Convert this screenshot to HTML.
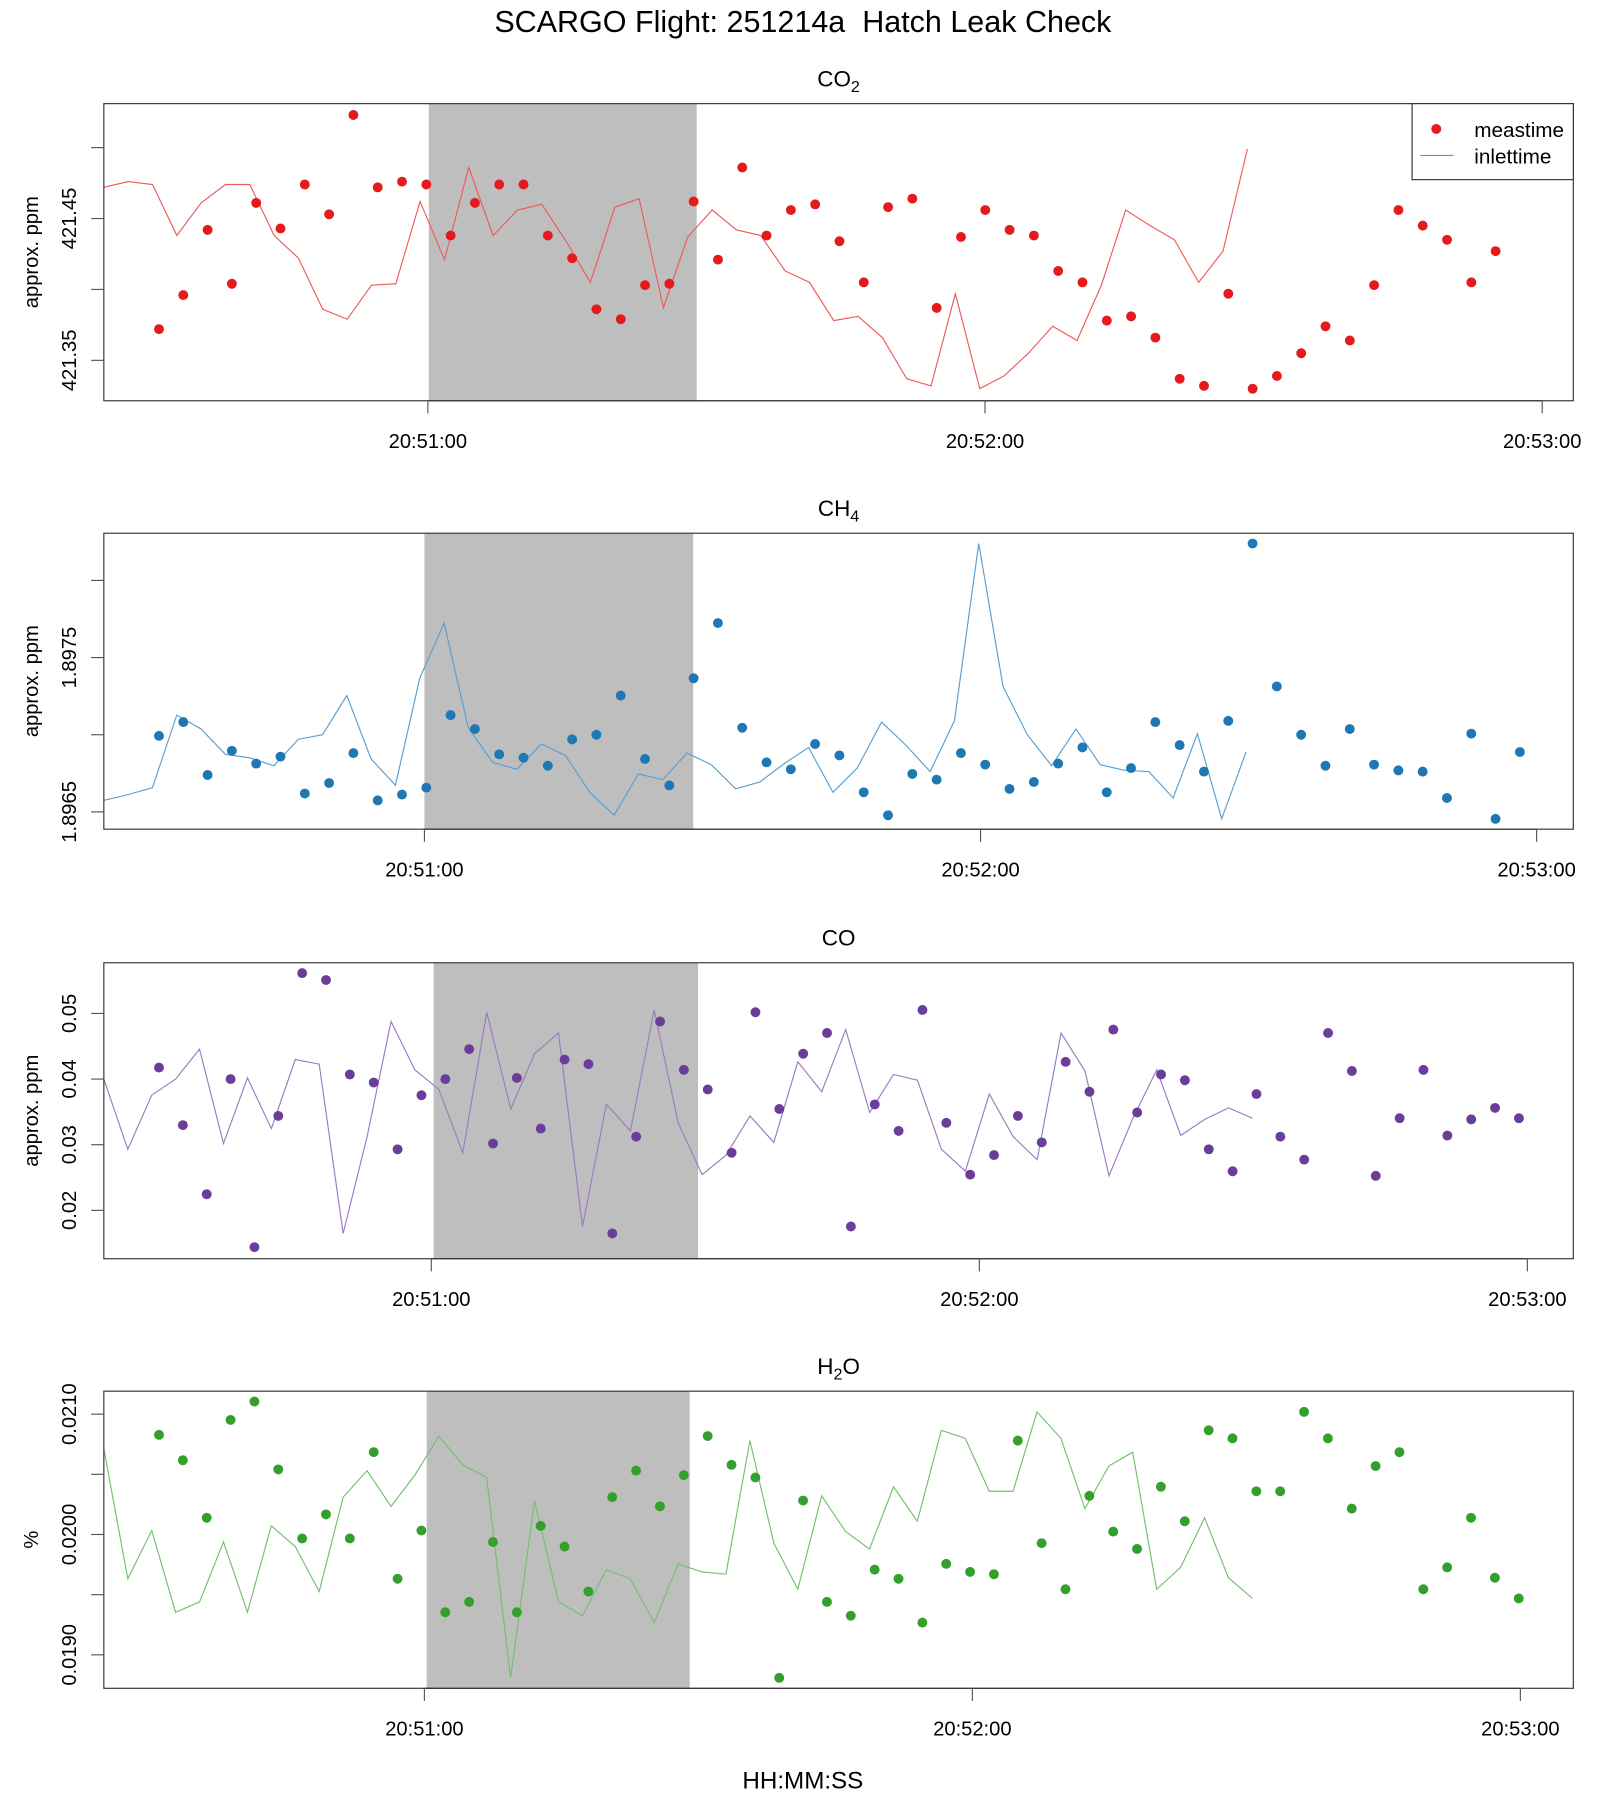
<!DOCTYPE html>
<html><head><meta charset="utf-8"><style>
html,body{margin:0;padding:0;background:#fff;}
svg{display:block;font-family:"Liberation Sans",sans-serif;}
</style></head><body>
<svg id="chart" width="1600" height="1800" viewBox="0 0 1389 1563" xmlns="http://www.w3.org/2000/svg">
<text x="697" y="28" font-size="26.5" text-anchor="middle" xml:space="preserve" style="white-space:pre">SCARGO Flight: 251214a  Hatch Leak Check</text>
<text x="697" y="1553" font-size="21" text-anchor="middle">HH:MM:SS</text>
</svg>
<script>
// Times in seconds after 20:50:00
const xTickLabels = ["20:51:00","20:52:00","20:53:00"];
const xTickTimes = [60,120,180];

const co2Meas = [421.372,421.396,421.442,421.404,421.461,421.443,421.474,421.453,421.523,421.472,421.476,421.474,421.438,421.461,421.474,421.474,421.438,421.422,421.386,421.379,421.403,421.404,421.462,421.421,421.486,421.438,421.456,421.460,421.434,421.405,421.458,421.464,421.387,421.437,421.456,421.442,421.438,421.413,421.405,421.378,421.381,421.366,421.337,421.332,421.397,421.330,421.339,421.355,421.374,421.364,421.403,421.456,421.445,421.435,421.405,421.427];
const co2Inlet = [421.472,421.476,421.474,421.438,421.461,421.474,421.474,421.438,421.422,421.386,421.379,421.403,421.404,421.462,421.421,421.486,421.438,421.456,421.460,421.434,421.405,421.458,421.464,421.387,421.437,421.456,421.442,421.438,421.413,421.405,421.378,421.381,421.366,421.337,421.332,421.397,421.330,421.339,421.355,421.374,421.364,421.403,421.456,421.445,421.435,421.405,421.427,421.499];

const ch4Meas = [1.896993,1.897082,1.896739,1.896896,1.896813,1.896858,1.896619,1.896687,1.896881,1.896575,1.896612,1.896657,1.897127,1.897037,1.896873,1.896851,1.896799,1.89697,1.8970,1.897254,1.896843,1.896672,1.897366,1.897724,1.897045,1.896821,1.896776,1.89694,1.896866,1.896627,1.896478,1.896746,1.896709,1.896881,1.896806,1.896649,1.896694,1.896813,1.896918,1.896627,1.896784,1.897082,1.896933,1.896761,1.89709,1.898239,1.897313,1.8970,1.896799,1.897037,1.896806,1.896769,1.896761,1.89659,1.897007,1.896455,1.896888];
const ch4Inlet = [1.896575,1.896612,1.896657,1.897127,1.897037,1.896873,1.896851,1.896799,1.89697,1.8970,1.897254,1.896843,1.896672,1.897366,1.897724,1.897045,1.896821,1.896776,1.89694,1.896866,1.896627,1.896478,1.896746,1.896709,1.896881,1.896806,1.896649,1.896694,1.896813,1.896918,1.896627,1.896784,1.897082,1.896933,1.896761,1.89709,1.898239,1.897313,1.8970,1.896799,1.897037,1.896806,1.896769,1.896761,1.89659,1.897007,1.896455,1.896888];

const coMeas = [0.04175,0.03298,0.02246,0.0400,0.01439,0.03439,0.05614,0.05509,0.0407,0.03947,0.0293,0.03754,0.0400,0.04456,0.03018,0.04018,0.03246,0.04298,0.04228,0.01649,0.03123,0.04877,0.0414,0.03842,0.02877,0.05018,0.03544,0.04386,0.04702,0.01754,0.03614,0.0321,0.05053,0.03333,0.02544,0.02842,0.03439,0.03035,0.04263,0.03807,0.04754,0.03491,0.0407,0.03982,0.0293,0.02596,0.03772,0.03123,0.02772,0.04702,0.04123,0.02526,0.03404,0.0414,0.0314,0.03386,0.03561,0.03404];
const coInlet = [0.0400,0.0293,0.03754,0.0400,0.04456,0.03018,0.04018,0.03246,0.04298,0.04228,0.01649,0.03123,0.04877,0.0414,0.03842,0.02877,0.05018,0.03544,0.04386,0.04702,0.01754,0.03614,0.0321,0.05053,0.03333,0.02544,0.02842,0.03439,0.03035,0.04263,0.03807,0.04754,0.03491,0.0407,0.03982,0.0293,0.02596,0.03772,0.03123,0.02772,0.04702,0.04123,0.02526,0.03404,0.0414,0.0314,0.03386,0.03561,0.03404];

const h2oMeas = [0.020828,0.020617,0.020139,0.020952,0.021105,0.020541,0.019967,0.020167,0.019967,0.020684,0.019632,0.020033,0.019354,0.01944,0.019938,0.019354,0.020072,0.0199,0.019526,0.020311,0.020531,0.020234,0.020493,0.020818,0.020579,0.020474,0.018809,0.020282,0.01944,0.019325,0.019708,0.019632,0.019268,0.019756,0.019689,0.01967,0.02078,0.019928,0.019545,0.020321,0.020024,0.01988,0.020397,0.02011,0.020866,0.020799,0.020359,0.020359,0.021019,0.020799,0.020215,0.020569,0.020684,0.019545,0.019727,0.020139,0.019641,0.019469];
const h2oInlet = [0.020713,0.019632,0.020033,0.019354,0.01944,0.019938,0.019354,0.020072,0.0199,0.019526,0.020311,0.020531,0.020234,0.020493,0.020818,0.020579,0.020474,0.018809,0.020282,0.01944,0.019325,0.019708,0.019632,0.019268,0.019756,0.019689,0.01967,0.02078,0.019928,0.019545,0.020321,0.020024,0.01988,0.020397,0.02011,0.020866,0.020799,0.020359,0.020359,0.021019,0.020799,0.020215,0.020569,0.020684,0.019545,0.019727,0.020139,0.019641,0.019469];

const co2YTicks = [421.35,421.40,421.45,421.50];
const co2YLabels = ["421.35","","421.45",""];
const ch4YTicks = [1.8965,1.8970,1.8975,1.8980];
const ch4YLabels = ["1.8965","","1.8975",""];
const coYTicks = [0.02,0.03,0.04,0.05];
const coYLabels = ["0.02","0.03","0.04","0.05"];
const h2oYTicks = [0.019,0.0195,0.020,0.0205,0.021];
const h2oYLabels = ["0.0190","","0.0200","","0.0210"];

const NS = "http://www.w3.org/2000/svg";
const svg = document.getElementById('chart');
function mk(tag, attrs, parent){ const e=document.createElementNS(NS,tag); for(const k in attrs) e.setAttribute(k,attrs[k]); (parent||svg).appendChild(e); return e; }

const panels = [
 {key:'co2', title:'CO', sub:'2', top:90, bottom:348, tmin:25.11, tmax:183.35, ymin:421.3215, ymax:421.531,
  mT0:31.05, mDt:2.617, iT0:25.11, iDt:2.62, meas:co2Meas, inlet:co2Inlet, yt:co2YTicks, yl:co2YLabels,
  pc:'#e41a1c', lc:'#f05a5a', shade:[60.1,88.95], ytitle:'approx. ppm', legend:true},
 {key:'ch4', title:'CH', sub:'4', top:463, bottom:720, tmin:25.41, tmax:183.96, ymin:1.896388, ymax:1.898306,
  mT0:31.36, mDt:2.622, iT0:25.41, iDt:2.622, meas:ch4Meas, inlet:ch4Inlet, yt:ch4YTicks, yl:ch4YLabels,
  pc:'#1f78b4', lc:'#5a9fd0', shade:[60.0,89.0], ytitle:'approx. ppm'},
 {key:'co', title:'CO', sub:'', top:836, bottom:1093, tmin:24.15, tmax:185.03, ymin:0.01263, ymax:0.05772,
  mT0:30.19, mDt:2.612, iT0:24.15, iDt:2.62, meas:coMeas, inlet:coInlet, yt:coYTicks, yl:coYLabels,
  pc:'#6a3d9a', lc:'#9a7cc0', shade:[60.25,89.2], ytitle:'approx. ppm'},
 {key:'h2o', title:'H', sub:'2', tail:'O', top:1208, bottom:1466, tmin:24.9, tmax:185.8, ymin:0.018722, ymax:0.021191,
  mT0:30.94, mDt:2.612, iT0:24.9, iDt:2.62, meas:h2oMeas, inlet:h2oInlet, yt:h2oYTicks, yl:h2oYLabels,
  pc:'#33a02c', lc:'#74c06e', shade:[60.25,89.05], ytitle:'%'}
];

const L=90, R=1366;
panels.forEach(p=>{
  const g = mk('g',{});
  
  
  const xs = t => L + (t-p.tmin)/(p.tmax-p.tmin)*(R-L);
  const ys = v => p.bottom - (v-p.ymin)/(p.ymax-p.ymin)*(p.bottom-p.top);
  const tt = mk('text',{x:(L+R)/2, y:p.top-15, 'font-size':19.5, 'text-anchor':'middle'}, g);
  
  
  tt.appendChild(document.createTextNode(p.title));
  if(p.sub){ const s=mk('tspan',{'font-size':14, dy:5},tt); s.textContent=p.sub; }
  if(p.tail){ const s=mk('tspan',{dy:-5},tt); s.textContent=p.tail; }
  const sh = mk('rect',{x:xs(p.shade[0]), y:p.top, width:xs(p.shade[1])-xs(p.shade[0]), height:p.bottom-p.top, fill:'#bebebe'}, g);
  
  
  const pts = p.inlet.map((v,i)=> xs(p.iT0+i*p.iDt).toFixed(1)+','+ys(v).toFixed(1)).join(' ');
  const ln = mk('polyline',{points:pts, fill:'none', stroke:p.lc, 'stroke-width':1}, g);
  
  
  p.meas.forEach((v,i)=>{
    const c = mk('circle',{cx:xs(p.mT0+i*p.mDt), cy:ys(v), r:4.3, fill:p.pc}, g);
    
    
  });
  const bx = mk('rect',{x:L, y:p.top, width:R-L, height:p.bottom-p.top, fill:'none', stroke:'#333', 'stroke-width':1}, g);
  
  
  p.yt.forEach((v,i)=>{
    const y = ys(v);
    const tk = mk('line',{x1:L-11, x2:L, y1:y, y2:y, stroke:'#555'}, g);
    
    
    if(p.yl[i]){
      const tl = mk('text',{x:0,y:0,'font-size':17.5,'text-anchor':'middle', transform:`translate(66,${y}) rotate(-90)`}, g);
      
      
      tl.textContent = p.yl[i];
    }
  });
  const yt = mk('text',{x:0,y:0,'font-size':17.5,'text-anchor':'middle', transform:`translate(33,${(p.top+p.bottom)/2}) rotate(-90)`}, g);
  
  
  yt.textContent = p.ytitle;
  const xa = mk('line',{x1:xs(xTickTimes[0]), x2:xs(xTickTimes[xTickTimes.length-1]), y1:p.bottom, y2:p.bottom, stroke:'#333'}, g);
  
  
  xTickTimes.forEach((t,i)=>{
    const x = xs(t);
    const tk = mk('line',{x1:x, x2:x, y1:p.bottom, y2:p.bottom+11, stroke:'#555'}, g);
    
    
    const tl = mk('text',{x:x, y:p.bottom+41, 'font-size':17.5, 'text-anchor':'middle'}, g);
    
    
    tl.textContent = xTickLabels[i];
  });
  if(p.legend){
    const lg = mk('g',{}, g);
    
    
    const lb = mk('rect',{x:1226, y:p.top, width:R-1226, height:66, fill:'#fff', stroke:'#333'}, lg);
    
    
    const lc = mk('circle',{cx:1247, cy:112, r:4.3, fill:p.pc}, lg);
    
    
    const t1 = mk('text',{x:1280, y:119, 'font-size':18}, lg);
    
    
    t1.textContent='meastime';
    const ll = mk('line',{x1:1233, x2:1262, y1:135, y2:135, stroke:p.lc}, lg);
    
    
    const t2 = mk('text',{x:1280, y:142, 'font-size':18}, lg);
    
    
    t2.textContent='inlettime';
  }
});
</script>
</body></html>
